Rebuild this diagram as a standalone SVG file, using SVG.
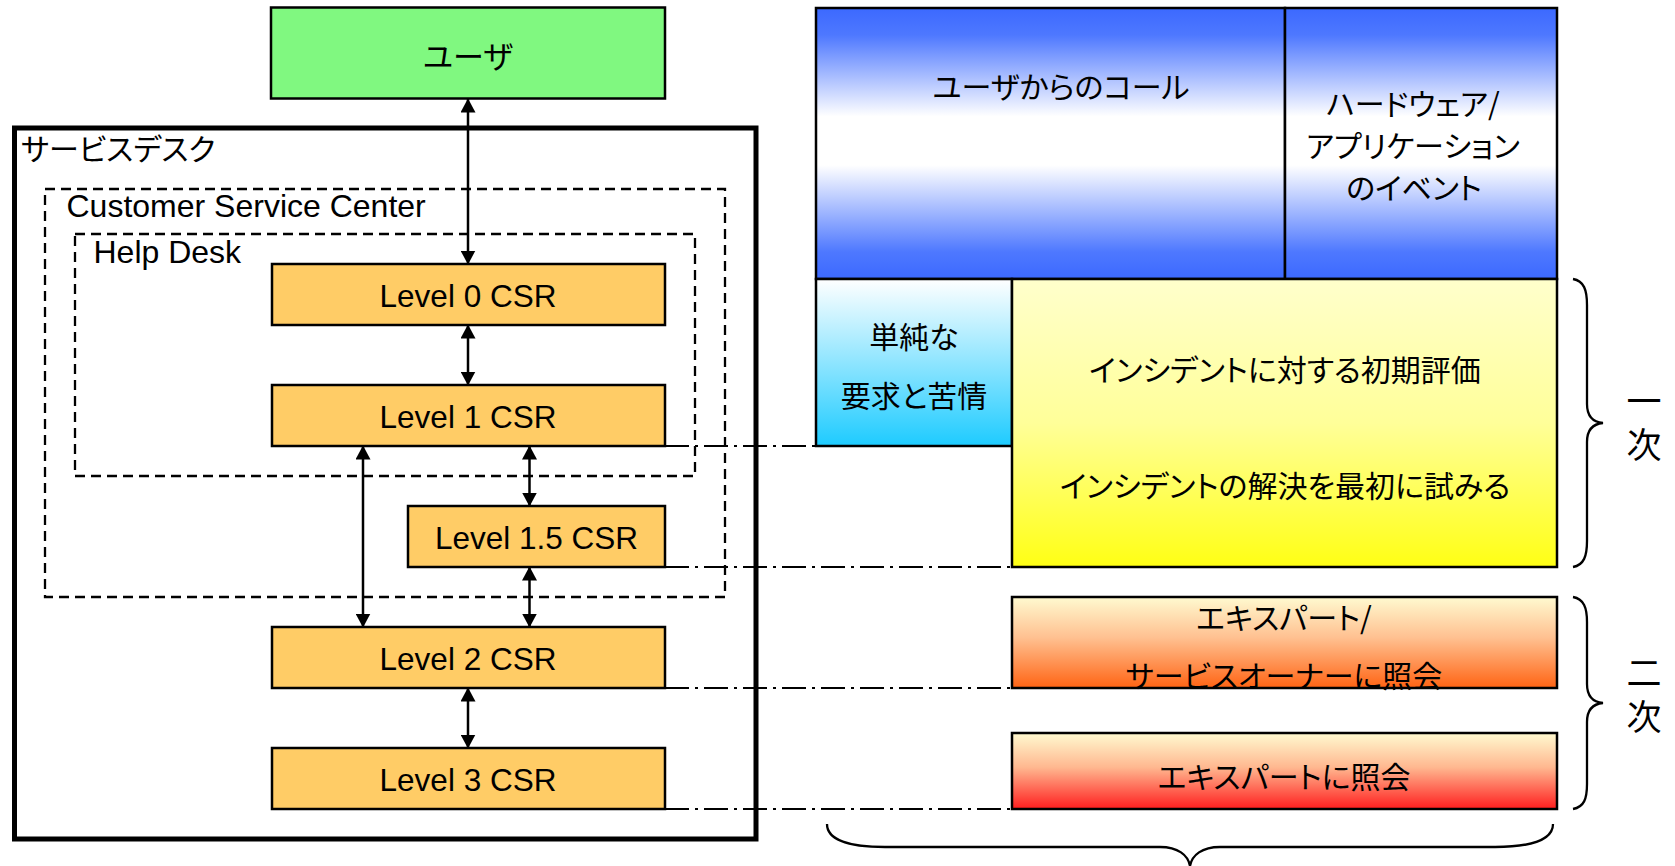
<svg xmlns="http://www.w3.org/2000/svg" width="1675" height="866" viewBox="0 0 1675 866">
<style>
.lat{font-family:"Liberation Sans",Arial,sans-serif;font-size:31.5px;fill:#000}
.lbl{font-size:32px}
.jp{font-family:"Noto Sans CJK JP","Noto Sans CJK SC",sans-serif;font-size:30px;fill:#000;dominant-baseline:central;font-feature-settings:"palt" 1}
.vert{font-family:"Noto Sans CJK JP","Noto Sans CJK SC",sans-serif;font-size:35px;fill:#000;writing-mode:vertical-rl;letter-spacing:9px;text-anchor:middle}
.mid{text-anchor:middle}
.box{stroke:#000;stroke-width:2.5}
.lvl{fill:#FFCC66;stroke:#000;stroke-width:2.5}
.dash{fill:none;stroke:#000;stroke-width:2.3;stroke-dasharray:10 6}
.dd{fill:none;stroke:#000;stroke-width:2.2;stroke-dasharray:24 6 3 6}
.con{stroke:#000;stroke-width:2.5;fill:none}
.brace{fill:none;stroke:#000;stroke-width:2.3}
</style>
<defs>
<marker id="arr" viewBox="0 0 14 15" refX="13.5" refY="7.5" markerWidth="14" markerHeight="15" markerUnits="userSpaceOnUse" orient="auto-start-reverse">
<path d="M0,0 L14,7.5 L0,15 z" fill="#000"/>
</marker>
<linearGradient id="gBlue" x1="0" y1="0" x2="0" y2="1">
<stop offset="0" stop-color="#3C69FF"/>
<stop offset="0.1" stop-color="#4E78FF"/>
<stop offset="0.4" stop-color="#FFFFFF"/>
<stop offset="0.58" stop-color="#FFFFFF"/>
<stop offset="0.9" stop-color="#4E78FF"/>
<stop offset="1" stop-color="#3C69FF"/>
</linearGradient>
<linearGradient id="gCyan" x1="0" y1="0" x2="0" y2="1">
<stop offset="0" stop-color="#FFFFFF"/>
<stop offset="1" stop-color="#1ECBFF"/>
</linearGradient>
<linearGradient id="gYel" x1="0" y1="0" x2="0" y2="1">
<stop offset="0" stop-color="#FFFFCC"/>
<stop offset="0.5" stop-color="#FFFF99"/>
<stop offset="1" stop-color="#FFFF14"/>
</linearGradient>
<linearGradient id="gOrg" x1="0" y1="0" x2="0" y2="1">
<stop offset="0" stop-color="#FFFAD0"/>
<stop offset="0.45" stop-color="#FFC090"/>
<stop offset="1" stop-color="#FF6414"/>
</linearGradient>
<linearGradient id="gRed" x1="0" y1="0" x2="0" y2="1">
<stop offset="0" stop-color="#FFFAD0"/>
<stop offset="0.45" stop-color="#FFB890"/>
<stop offset="1" stop-color="#FF1E1E"/>
</linearGradient>
</defs>

<g id="service-desk">
<rect x="14.5" y="128" width="741.5" height="711" fill="none" stroke="#000" stroke-width="5"/>
<text class="jp" x="21" y="146.5">サービスデスク</text>
</g>
<g id="customer-service-center">
<rect class="dash" x="45" y="189" width="680" height="408"/>
<text class="lat lbl" x="66.5" y="216.5">Customer Service Center</text>
</g>
<g id="help-desk">
<rect class="dash" x="75" y="234" width="620" height="242"/>
<text class="lat lbl" x="93.5" y="263">Help Desk</text>
</g>

<g id="guides">
<line class="dd" x1="665" y1="446" x2="816" y2="446"/>
<line class="dd" x1="665" y1="567" x2="1012" y2="567"/>
<line class="dd" x1="665" y1="688" x2="1012" y2="688"/>
<line class="dd" x1="665" y1="809" x2="1012" y2="809"/>
</g>

<g id="user">
<rect class="box" x="271" y="7.5" width="394" height="91" fill="#80F880"/>
<text class="jp mid" x="468" y="54" style="font-size:31px">ユーザ</text>
</g>
<g id="level0">
<rect class="lvl" x="272" y="264" width="393" height="61"/>
<text class="lat mid" x="468" y="306.5">Level 0 CSR</text>
</g>
<g id="level1">
<rect class="lvl" x="272" y="385" width="393" height="61"/>
<text class="lat mid" x="468" y="427.5">Level 1 CSR</text>
</g>
<g id="level15">
<rect class="lvl" x="408" y="506" width="257" height="61"/>
<text class="lat mid" x="536.5" y="548.5">Level 1.5 CSR</text>
</g>
<g id="level2">
<rect class="lvl" x="272" y="627" width="393" height="61"/>
<text class="lat mid" x="468" y="669.5">Level 2 CSR</text>
</g>
<g id="level3">
<rect class="lvl" x="272" y="748" width="393" height="61"/>
<text class="lat mid" x="468" y="790.5">Level 3 CSR</text>
</g>

<g id="connectors">
<line class="con" x1="468" y1="99" x2="468" y2="264" marker-start="url(#arr)" marker-end="url(#arr)"/>
<line class="con" x1="468" y1="325" x2="468" y2="385" marker-start="url(#arr)" marker-end="url(#arr)"/>
<line class="con" x1="363" y1="446" x2="363" y2="627" marker-start="url(#arr)" marker-end="url(#arr)"/>
<line class="con" x1="529.5" y1="446" x2="529.5" y2="506" marker-start="url(#arr)" marker-end="url(#arr)"/>
<line class="con" x1="529.5" y1="567" x2="529.5" y2="627" marker-start="url(#arr)" marker-end="url(#arr)"/>
<line class="con" x1="468" y1="688" x2="468" y2="748" marker-start="url(#arr)" marker-end="url(#arr)"/>
</g>

<g id="calls">
<rect class="box" x="816" y="8" width="469" height="271" fill="url(#gBlue)"/>
<text class="jp mid" x="1061" y="84.5">ユーザからのコール</text>
</g>
<g id="events">
<rect class="box" x="1285" y="8" width="272" height="271" fill="url(#gBlue)"/>
<text class="jp mid" x="1413" y="101.5">ハードウェア/</text>
<text class="jp mid" x="1413" y="144">アプリケーション</text>
<text class="jp mid" x="1414" y="185.5">のイベント</text>
</g>
<g id="simple-requests">
<rect class="box" x="816" y="279" width="196" height="167" fill="url(#gCyan)"/>
<text class="jp mid" x="914" y="335">単純な</text>
<text class="jp mid" x="914" y="393.5">要求と苦情</text>
</g>
<g id="first-line">
<rect class="box" x="1012" y="279" width="545" height="288" fill="url(#gYel)"/>
<text class="jp mid" x="1285" y="368">インシデントに対する初期評価</text>
<text class="jp mid" x="1285" y="483.5">インシデントの解決を最初に試みる</text>
</g>
<g id="expert-owner">
<rect class="box" x="1012" y="597" width="545" height="91" fill="url(#gOrg)"/>
<text class="jp mid" x="1284" y="616">エキスパート/</text>
<text class="jp mid" x="1284" y="674">サービスオーナーに照会</text>
</g>
<g id="expert">
<rect class="box" x="1012" y="733" width="545" height="76" fill="url(#gRed)"/>
<text class="jp mid" x="1284" y="775">エキスパートに照会</text>
</g>

<g id="braces">
<path class="brace" d="M1573,279 C1584,281 1587,290 1587,305 L1587,404 C1587,416 1592,422 1603,423 C1592,424 1587,430 1587,442 L1587,541 C1587,556 1584,565 1573,567"/>
<path class="brace" d="M1573,597 C1584,599 1587,608 1587,622 L1587,684 C1587,696 1592,702 1603,703 C1592,704 1587,710 1587,722 L1587,784 C1587,799 1584,807 1573,809"/>
<path class="brace" d="M827,824 C827,840 850,847 885,847 L1160,847 C1178,847 1188,855 1190,866 C1192,855 1202,847 1220,847 L1495,847 C1530,847 1553,840 1553,824"/>
<text class="vert" x="1644" y="427">一次</text>
<text class="vert" x="1644" y="699">二次</text>
</g>
</svg>
